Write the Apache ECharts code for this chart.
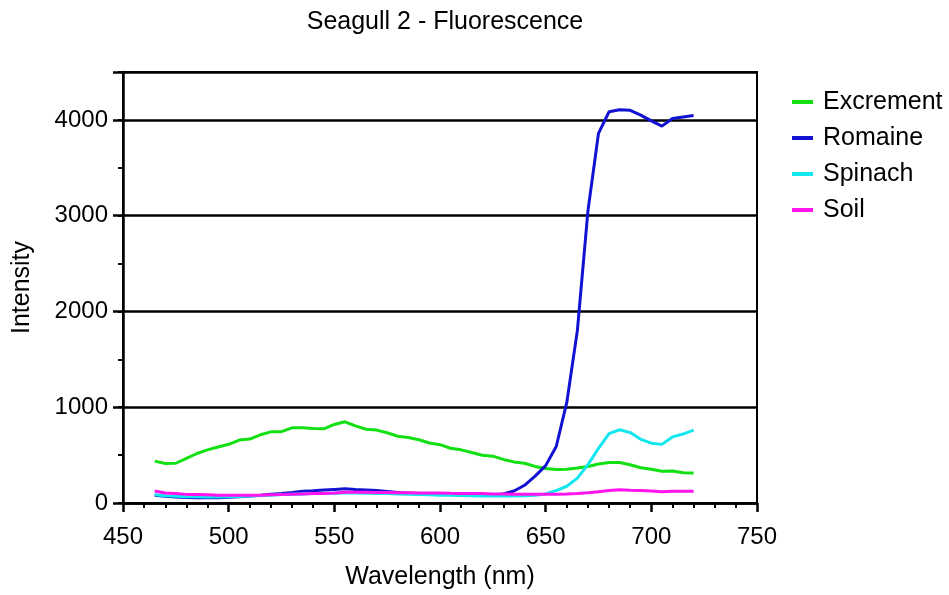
<!DOCTYPE html>
<html>
<head>
<meta charset="utf-8">
<script src="https://cdn.jsdelivr.net/npm/echarts@6/dist/echarts.min.js"></script>
<style>html,body{margin:0;padding:0;background:#fff;}#c{width:949px;height:595px;}</style>
</head>
<body>
<div id="c"></div>
<script>
const wavelengths = [465,470,475,480,485,490,495,500,505,510,515,520,525,530,535,540,545,550,555,560,565,570,575,580,585,590,595,600,605,610,615,620,625,630,635,640,645,650,655,660,665,670,675,680,685,690,695,700,705,710,715,720];
const excrement = [437,412,415,465,517,555,585,613,657,668,712,743,745,785,785,778,775,820,848,806,770,761,733,697,684,660,627,609,572,555,527,499,489,455,429,415,382,360,350,353,365,382,407,423,423,400,368,352,332,333,316,314];
const romaine = [80,70,62,58,55,55,56,60,65,72,80,92,100,110,122,128,135,142,148,140,135,130,120,110,105,100,95,90,88,85,82,80,82,95,125,185,280,390,590,1050,1800,3050,3860,4085,4105,4100,4050,3990,3935,4015,4030,4045];
const spinach = [85,75,70,65,65,62,62,65,68,72,78,82,88,92,95,98,100,102,105,105,103,100,98,95,92,88,85,82,80,78,75,73,72,72,72,75,80,95,130,175,260,400,570,725,765,735,665,625,612,690,720,760];
const soil = [125,105,100,90,88,85,82,80,80,80,82,85,88,92,95,98,100,105,112,112,112,110,110,108,108,105,105,105,102,100,100,98,95,95,92,92,92,92,92,95,100,108,118,130,138,133,130,125,118,122,122,122];
const seriesNames = ['Excrement','Romaine','Spinach','Soil'];
const seriesValues = [excrement, romaine, spinach, soil];
const seriesColors = ['#12e012','#1212d2','#12e6ee','#ff14ee'];

const font = 'Liberation Sans, Arial, Helvetica, sans-serif';
const chart = echarts.init(document.getElementById('c'), null, {renderer:'canvas'});
const series = seriesNames.map((n,i)=>({
  name:n, type:'line', showSymbol:false, symbol:'none',
  data: wavelengths.map((w,j)=>[w, seriesValues[i][j]]),
  lineStyle:{width:3,color:seriesColors[i]}, itemStyle:{color:seriesColors[i]},
  xAxisIndex:0, yAxisIndex:0, z: 3+i
}));
chart.setOption({
  animation:false,
  backgroundColor:'#fff',
  title:{text:'Seagull 2 - Fluorescence', left:440, textAlign:'center', top:5,
    textStyle:{fontFamily:font,fontSize:25,fontWeight:'normal',color:'#000'}},
  legend:{orient:'vertical', left:787, top:84, itemWidth:21, itemHeight:4, itemGap:10, icon:'rect',
    data:seriesNames,
    textStyle:{fontFamily:font,fontSize:25,color:'#000',lineHeight:26,padding:[0,0,0,5]}},
  grid:{left:123,right:192,top:72,bottom:92,show:true,borderColor:'#000',borderWidth:2,containLabel:false},
  xAxis:[{type:'value',min:450,max:750,interval:50,
    name:'Wavelength (nm)',nameLocation:'middle',nameGap:62,
    nameTextStyle:{fontFamily:font,fontSize:25,color:'#000'},
    axisLine:{show:true,onZero:false,lineStyle:{color:'#000',width:2.5}},
    axisTick:{show:true,inside:false,length:9,lineStyle:{color:'#000',width:2.5}},
    minorTick:{show:true,splitNumber:5,length:5,lineStyle:{color:'#000',width:2}},
    axisLabel:{fontFamily:font,fontSize:24,color:'#000',margin:22},
    splitLine:{show:false}}],
  yAxis:[{type:'value',min:0,max:4500,interval:1000,
    name:'Intensity',nameLocation:'middle',nameGap:88,nameRotate:90,
    nameTextStyle:{fontFamily:font,fontSize:25,color:'#000'},
    axisLine:{show:true,lineStyle:{color:'#000',width:2.5}},
    axisTick:{show:true,length:10,lineStyle:{color:'#000',width:2.5}},
    axisLabel:{fontFamily:font,fontSize:24,color:'#000',margin:15,
      formatter:function(v){return v>4000?'':String(v);}},
    splitLine:{show:true,lineStyle:{color:'#000',width:2.5}}},
   {type:'value',min:0,max:4500,interval:500,position:'left',
    axisLine:{show:false},axisTick:{show:true,length:5,lineStyle:{color:'#000',width:2}},
    axisLabel:{show:false},splitLine:{show:false}}],
  series: series
});
</script>
</body>
</html>
